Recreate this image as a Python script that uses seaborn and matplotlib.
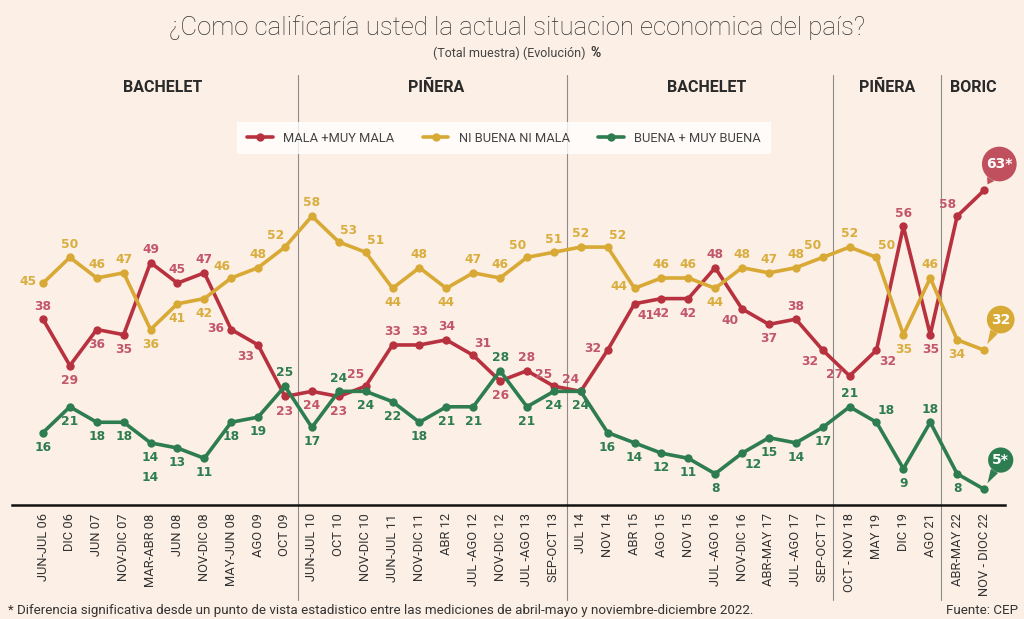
import seaborn as sns
import matplotlib.pyplot as plt
import pandas as pd

periodos = ["JUN-JUL 06", "DIC 06", "JUN 07", "NOV-DIC 07", "MAR-ABR 08", "JUN 08",
            "NOV-DIC 08", "MAY-JUN 08", "AGO 09", "OCT 09", "JUN-JUL 10", "OCT 10",
            "NOV-DIC 10", "JUN-JUL 11", "NOV-DIC 11", "ABR 12", "JUL -AGO 12", "NOV-DIC 12",
            "JUL -AGO 13", "SEP-OCT 13", "JUL 14", "NOV 14", "ABR 15", "AGO 15", "NOV 15",
            "JUL -AGO 16", "NOV-DIC 16", "ABR-MAY 17", "JUL -AGO 17", "SEP-OCT 17",
            "OCT - NOV 18", "MAY 19", "DIC 19", "AGO 21", "ABR-MAY 22", "NOV - DIOC 22"]

mala = [38, 29, 36, 35, 49, 45, 47, 36, 33, 23, 24, 23, 25, 33, 33, 34, 31, 26, 28, 25,
        24, 32, 41, 42, 42, 48, 40, 37, 38, 32, 27, 32, 56, 35, 58, 63]
ni = [45, 50, 46, 47, 36, 41, 42, 46, 48, 52, 58, 53, 51, 44, 48, 44, 47, 46, 50, 51,
      52, 52, 44, 46, 46, 44, 48, 47, 48, 50, 52, 50, 35, 46, 34, 32]
buena = [16, 21, 18, 18, 14, 13, 11, 18, 19, 25, 17, 24, 24, 22, 18, 21, 21, 28, 21, 24,
         24, 16, 14, 12, 11, 8, 12, 15, 14, 17, 21, 18, 9, 18, 8, 5]

series = ["MALA +MUY MALA", "NI BUENA NI MALA", "BUENA + MUY BUENA"]
gobiernos = ["BACHELET", "PIÑERA", "BACHELET", "PIÑERA", "BORIC"]

# donde va cada etiqueta respecto al punto
pos_mala = ["u", "d", "d", "d", "u", "u", "u", "l", "dl", "d", "d", "d", "ul", "u", "u", "u", "ur", "d",
            "u", "ul", "ul", "l", "dr", "d", "d", "u", "dl", "d", "u", "dl", "l", "dr", "u", "d", "ul", "b"]
pos_ni = ["l", "u", "u", "u", "d", "d", "d", "ul", "u", "ul", "u", "ur", "ur", "d", "u", "d", "u", "u",
          "ul", "u", "u", "ur", "l", "u", "u", "d", "u", "u", "u", "ul", "u", "ur", "d", "u", "d", "b"]
pos_buena = ["d", "d", "d", "d", "d", "d", "d", "d", "d", "u", "d", "u", "d", "d", "d", "d", "d", "u",
             "d", "d", "d", "d", "d", "d", "d", "d", "dr", "d", "d", "d", "u", "ur", "d", "u", "d", "b"]

fondo = "#fcefe5"
colores = ["#b8313f", "#d8a935", "#2e7d50"]
col_etiq = ["#c2566a", "#d9ad3e", "#2e7d50"]
burbuja = ["#c0505d", "#d9a935", "#2e7d50"]

n = len(periodos)
df = pd.DataFrame({
    "idx": list(range(n)) * 3,
    "valor": mala + ni + buena,
    "serie": [series[0]] * n + [series[1]] * n + [series[2]] * n,
})

sns.set_theme(style="white")
plt.rcParams['font.family'] = ['Roboto', 'DejaVu Sans']

fig = plt.figure(figsize=(10.24, 6.19), dpi=100, facecolor=fondo)
ax = fig.add_axes([12 / 1024, 114 / 619, 993 / 1024, 430 / 619])
ax.set_facecolor(fondo)

sns.lineplot(data=df, x="idx", y="valor", hue="serie", palette=dict(zip(series, colores)),
             marker="o", markersize=6, markeredgewidth=0, linewidth=2.6, ax=ax)

ax.set_xlim(-1.153, 35.78)
ax.set_ylim(1.94, 85.4)
ax.set_xticks(range(n))
ax.set_xticklabels(periodos, rotation=90, fontsize=9.3, color="#333333")
ax.tick_params(axis="x", length=0, pad=6)
ax.set_yticks([])
ax.set_xlabel("")
ax.set_ylabel("")
for s in ["left", "right", "top"]:
    ax.spines[s].set_visible(False)
ax.spines["bottom"].set_color("#111111")
ax.spines["bottom"].set_linewidth(1.8)

# separadores de gobierno
for xs in [9.5, 19.5, 29.4, 33.4]:
    ax.axvline(xs, ymin=-95 / 430, ymax=1, color="#8c8c8c", lw=0.8, clip_on=False, zorder=0)

for xg, g in zip([4.47, 14.63, 24.68, 31.38, 34.62], gobiernos):
    ax.text(xg, 82.9, g, ha="center", va="center", fontsize=11.5, fontweight="bold", color="#2a2a2a")

off = {"u": (0, 9.5), "d": (0, -10.5), "l": (-11, 1), "r": (11, 0),
       "ul": (-7, 8.5), "ur": (7, 8.5), "dl": (-9, -8), "dr": (8, -8.5)}
bub_off = [(11, 19), (12, 22), (12, 21)]

for k, (vals, poss) in enumerate([(mala, pos_mala), (ni, pos_ni), (buena, pos_buena)]):
    for i, (v, p) in enumerate(zip(vals, poss)):
        if p == "b":
            txt = f"{v}*" if k != 1 else f"{v}"
            ax.annotate(txt, (i, v), xytext=bub_off[k], textcoords="offset points",
                        ha="center", va="center", fontsize=10, fontweight="bold", color="white",
                        family="DejaVu Sans",
                        bbox=dict(boxstyle="circle,pad=0.3", fc=burbuja[k], ec="none"),
                        arrowprops=dict(arrowstyle="wedge,tail_width=0.6", fc=burbuja[k], ec="none",
                                        shrinkA=0, shrinkB=5))
        else:
            ax.annotate(str(v), (i, v), xytext=off[p], textcoords="offset points",
                        ha="center", va="center", fontsize=8.8, fontweight="bold",
                        color=col_etiq[k], family="DejaVu Sans")
# etiqueta repetida del original
ax.annotate(str(buena[4]), (4, buena[4]), xytext=(0, -25), textcoords="offset points",
            ha="center", va="center", fontsize=8.8, fontweight="bold", color=col_etiq[2],
            family="DejaVu Sans")

leg = ax.legend(loc="center", bbox_to_anchor=(504 / 1024, (619 - 138) / 619),
                bbox_transform=fig.transFigure, ncol=3, frameon=True, fancybox=False,
                fontsize=9.3, handlelength=2.0, columnspacing=2.2, borderpad=0.75,
                handletextpad=0.8, borderaxespad=0)
leg.get_frame().set_facecolor("white")
leg.get_frame().set_edgecolor("none")
for t in leg.get_texts():
    t.set_color("#444444")

fig.text(0.505, 0.955, "¿Como calificaría usted la actual situacion economica del país?",
         ha="center", va="center", fontsize=18.5, fontweight="light", color="#333333")
sub = fig.text(0.497, 0.914, "(Total muestra) (Evolución)", ha="center", va="center",
               fontsize=9, color="#444444")
ax.annotate("%", xy=(1, 0.5), xycoords=sub, xytext=(4, 0), textcoords="offset points",
            va="center", ha="left", fontsize=10, fontweight="bold", color="#333333",
            annotation_clip=False)

fig.text(0.008, 0.014, "* Diferencia significativa desde un punto de vista estadistico entre las "
         "mediciones de abril-mayo y noviembre-diciembre 2022.", ha="left", va="center",
         fontsize=9.6, color="#333333")
fig.text(0.994, 0.014, "Fuente: CEP", ha="right", va="center", fontsize=9.6, color="#333333")

fig.savefig("out.png", dpi=100, facecolor=fondo)
